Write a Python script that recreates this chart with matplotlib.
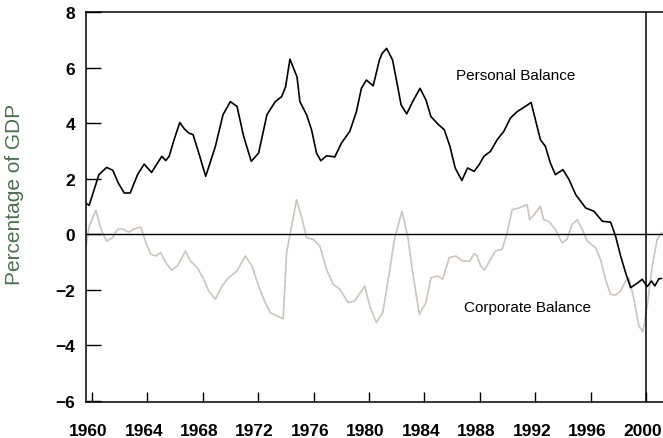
import matplotlib
matplotlib.use("Agg")
import matplotlib.pyplot as plt
from matplotlib.transforms import ScaledTranslation

# ---- data ----
personal_years = [1959.57, 1959.8, 1960.5, 1961.06, 1961.5, 1961.9, 1962.33, 1962.76, 1963.29, 1963.77,
                  1964.3, 1965.04, 1965.33, 1965.57, 1965.93, 1966.34, 1966.65, 1966.99, 1967.3, 1967.71,
                  1968.21, 1968.91, 1969.46, 1969.99, 1970.47, 1970.95, 1971.5, 1972.03, 1972.63, 1973.23,
                  1973.69, 1973.98, 1974.29, 1974.65, 1974.8, 1975.01, 1975.49, 1975.85, 1976.21, 1976.52,
                  1976.93, 1977.53, 1978.01, 1978.61, 1979.09, 1979.45, 1979.81, 1980.3, 1980.75, 1980.95,
                  1981.27, 1981.7, 1982.07, 1982.31, 1982.72, 1983.15, 1983.68, 1984.11, 1984.47, 1985.02,
                  1985.43, 1985.84, 1986.22, 1986.7, 1987.11, 1987.59, 1987.95, 1988.29, 1988.77, 1989.25,
                  1989.73, 1990.21, 1990.69, 1991.29, 1991.7, 1992.01, 1992.37, 1992.73, 1993.09, 1993.45,
                  1994.0, 1994.44, 1994.92, 1995.64, 1996.24, 1996.84, 1997.44, 1997.8, 1998.16, 1998.52,
                  1998.88, 1999.36, 1999.72, 2000.08, 2000.39, 2000.63, 2000.92, 2001.1]
personal_vals = [1.1, 1.04, 2.14, 2.40, 2.3, 1.84, 1.48, 1.48, 2.14, 2.52,
                 2.22, 2.8, 2.65, 2.8, 3.4, 4.02, 3.8, 3.64, 3.58, 2.92,
                 2.08, 3.16, 4.3, 4.77, 4.6, 3.52, 2.62, 2.92, 4.3, 4.77,
                 4.95, 5.31, 6.3, 5.85, 5.67, 4.77, 4.3, 3.76, 2.92, 2.64,
                 2.82, 2.78, 3.28, 3.7, 4.41, 5.25, 5.55, 5.34, 6.27, 6.51,
                 6.69, 6.27, 5.31, 4.66, 4.33, 4.77, 5.25, 4.83, 4.23, 3.94,
                 3.76, 3.16, 2.38, 1.93, 2.38, 2.26, 2.5, 2.8, 2.98, 3.4,
                 3.7, 4.18, 4.41, 4.6, 4.74, 4.12, 3.4, 3.16, 2.56, 2.14,
                 2.32, 1.96, 1.42, 0.94, 0.82, 0.46, 0.43, -0.08, -0.79, -1.39,
                 -1.93, -1.77, -1.63, -1.89, -1.69, -1.87, -1.61, -1.6]

corporate_years = [1959.57, 1959.8, 1960.29, 1960.65, 1961.06, 1961.49, 1961.85, 1962.21, 1962.64, 1963.05,
                   1963.53, 1963.89, 1964.25, 1964.61, 1964.97, 1965.33, 1965.76, 1966.17, 1966.75, 1967.11,
                   1967.59, 1967.95, 1968.43, 1968.91, 1969.39, 1969.87, 1970.47, 1971.07, 1971.55, 1972.03,
                   1972.51, 1972.87, 1973.35, 1973.8, 1974.05, 1974.41, 1974.77, 1975.18, 1975.49,
                   1975.97, 1976.45, 1976.93, 1977.41, 1977.89, 1978.49, 1978.97, 1979.69, 1980.05, 1980.53,
                   1980.99, 1981.47, 1981.83, 1982.38, 1982.79, 1983.15, 1983.63, 1984.11, 1984.47, 1984.95,
                   1985.31, 1985.79, 1986.27, 1986.75, 1987.28, 1987.59, 1987.81, 1988.05, 1988.34, 1988.77,
                   1989.13, 1989.61, 1989.97, 1990.33, 1990.81, 1991.41, 1991.6, 1992.01, 1992.37, 1992.61,
                   1992.97, 1993.45, 1993.93, 1994.29, 1994.65, 1995.03, 1995.39, 1995.75, 1996.35, 1996.71,
                   1997.07, 1997.43, 1997.8, 1998.16, 1998.52, 1998.76, 1999.12, 1999.48, 1999.77, 2000.08,
                   2000.44, 2000.8, 2001.12]
corporate_vals = [-0.43, 0.28, 0.86, 0.17, -0.25, -0.13, 0.17, 0.19, 0.07, 0.19,
                  0.25, -0.31, -0.73, -0.79, -0.67, -1.03, -1.3, -1.15, -0.61, -0.97,
                  -1.21, -1.51, -2.05, -2.35, -1.87, -1.57, -1.33, -0.79, -1.15, -1.87,
                  -2.47, -2.83, -2.95, -3.05, -0.67, 0.28, 1.24, 0.52, -0.13,
                  -0.19, -0.43, -1.27, -1.81, -1.99, -2.47, -2.41, -1.87, -2.59, -3.19,
                  -2.83, -1.39, -0.19, 0.82, -0.07, -1.39, -2.89, -2.47, -1.57, -1.51,
                  -1.63, -0.85, -0.79, -0.97, -0.97, -0.7, -0.79, -1.15, -1.3, -0.91,
                  -0.61, -0.55, 0.05, 0.88, 0.94, 1.06, 0.52, 0.76, 1.0, 0.52,
                  0.46, 0.17, -0.31, -0.19, 0.34, 0.52, 0.17, -0.25, -0.49, -0.91,
                  -1.63, -2.17, -2.2, -2.05, -1.69, -1.57, -2.35, -3.31, -3.52, -2.59,
                  -1.15, -0.19, 0.05]

x_ticks = [1960, 1964, 1968, 1972, 1976, 1980, 1984, 1988, 1992, 1996, 2000]
y_ticks = [-6, -4, -2, 0, 2, 4, 6, 8]
y_label = "Percentage of GDP"
personal_label = "Personal Balance"
corporate_label = "Corporate Balance"

# ---- figure ----
fig = plt.figure(figsize=(6.63, 4.39), dpi=100)
ax = fig.add_axes([86 / 663, 36 / 439, 1 - 86 / 663, 390 / 439])

ax.plot(corporate_years, corporate_vals, color="#ccc4bd", lw=1.2, zorder=2)
ax.plot(personal_years, personal_vals, color="black", lw=1.2, zorder=3)
ax.axhline(0, color="black", lw=1.0, zorder=4)
ax.axvline(2000, color="black", lw=1.1, zorder=4)

ax.set_xlim(1959.57, 2001.22)
ax.set_ylim(-6.05, 8.0)
ax.spines["right"].set_visible(False)
for s in ["left", "bottom", "top"]:
    ax.spines[s].set_linewidth(1.1)

tick_font = ["Liberation Sans", "DejaVu Sans"]
ax.set_xticks(x_ticks)
ax.set_xticklabels([str(t) for t in x_ticks], fontfamily=tick_font, fontweight="bold", fontsize=12.5)
ax.set_yticks(y_ticks)
ax.set_yticklabels(["\u2212" + str(-t) if t < 0 else str(t) for t in y_ticks],
                   fontfamily=tick_font, fontweight="bold", fontsize=12.5)
ax.tick_params(axis="x", direction="in", length=7, width=1, pad=15)
ax.tick_params(axis="y", direction="in", length=10.5, width=1, pad=8)
shift = ScaledTranslation(-3.5 / 100, 0, fig.dpi_scale_trans)
for lab in ax.get_xticklabels():
    lab.set_transform(lab.get_transform() + shift)

fig.text(15 / 663, 1 - 194 / 439, y_label, rotation=90, ha="center", va="center",
         fontsize=15, color="#4e6e50", fontfamily=["Liberation Sans", "DejaVu Sans"])

ax.text(1990.62, 5.73, personal_label, ha="center", va="center", fontsize=11,
        fontfamily=["Liberation Sans", "DejaVu Sans"])
ax.text(1991.41, -2.64, corporate_label, ha="center", va="center", fontsize=11,
        fontfamily=["Liberation Sans", "DejaVu Sans"])

fig.savefig("out.png", dpi=100)
